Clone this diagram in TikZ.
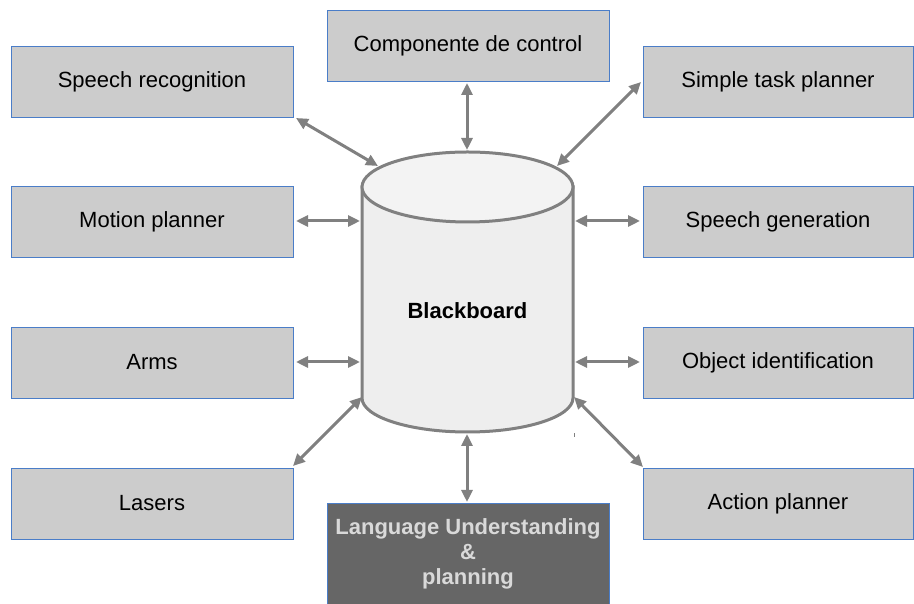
\documentclass[tikz,border=0pt]{standalone}
\usepackage{fontspec}
\setmainfont{Liberation Sans}
\usetikzlibrary{arrows.meta}
\definecolor{boxfill}{HTML}{CCCCCC}
\definecolor{boxline}{RGB}{74,125,200}
\definecolor{arrowgray}{HTML}{808080}
\definecolor{cyltop}{HTML}{F3F3F3}
\definecolor{cylbody}{HTML}{EEEEEE}
\definecolor{darkbox}{HTML}{666666}
\definecolor{lighttext}{HTML}{D9D9D9}
\begin{document}
\begin{tikzpicture}[x=1pt,y=1pt,
  box/.style={draw=boxline,line width=0.9pt,fill=boxfill,minimum height=71pt,inner sep=0pt,
    font=\fontsize{22}{25}\selectfont,text=black},
  lbox/.style={box,minimum width=282pt},
  rbox/.style={box,minimum width=270pt},
  conn/.style={draw=arrowgray,line width=3pt,{Triangle[length=12pt,width=11pt]}-{Triangle[length=12pt,width=11pt]}}
]
\useasboundingbox (0,0) rectangle (914,604);
% boxes
\node[lbox] (sr) at (152,522.5) {Speech recognition};
\node[lbox] (mp) at (152,382) {Motion planner};
\node[lbox] (arms) at (152,241.5) {Arms};
\node[lbox] (las) at (152,100.5) {Lasers};
\node[rbox] (stp) at (778,522.5) {Simple task planner};
\node[rbox] (sg) at (778,382) {Speech generation};
\node[rbox] (oi) at (778,241.5) {Object identification};
\node[rbox] (ap) at (778,100.5) {Action planner};
\node[lbox] (ctl) at (468,558.5) {Componente de control};
\node[box,fill=darkbox,minimum width=282pt,minimum height=101pt,text=lighttext,align=center,
  font=\fontsize{22}{25}\selectfont\bfseries] (lu) at (468,50.5) {Language Understanding\\\&\\planning};
% cylinder
\filldraw[draw=arrowgray,line width=3pt,fill=cylbody]
  (362,417) -- (362,206) arc[start angle=180,end angle=360,x radius=105.5,y radius=34] -- (573,417) -- cycle;
\filldraw[draw=arrowgray,line width=3pt,fill=cyltop] (467.5,417) ellipse[x radius=105.5,y radius=35];
\node[font=\fontsize{22}{25}\selectfont\bfseries] (bb) at (467.5,293) {Blackboard};
% connector end points
\coordinate (ctl-a) at (467,521); \coordinate (ctl-b) at (467,454);
\coordinate (sr-a) at (296,486);  \coordinate (sr-b) at (378,438);
\coordinate (stp-a) at (641,522); \coordinate (stp-b) at (557,438);
\coordinate (mp-a) at (296,383);  \coordinate (mp-b) at (360,383);
\coordinate (sg-a) at (640,383);  \coordinate (sg-b) at (575,383);
\coordinate (arms-a) at (296,242); \coordinate (arms-b) at (360,242);
\coordinate (oi-a) at (640,242);  \coordinate (oi-b) at (575,242);
\coordinate (las-a) at (293,138); \coordinate (las-b) at (362,207);
\coordinate (ap-a) at (643,137);  \coordinate (ap-b) at (574,207);
\coordinate (lu-a) at (467,102);  \coordinate (lu-b) at (467,170);
\foreach \n in {ctl,sr,stp,mp,sg,arms,oi,las,ap,lu}{
  \draw[conn] (\n-a) -- (\n-b);
}
\coordinate (tick-a) at (574,167); \coordinate (tick-b) at (574,171);
\draw[arrowgray,line width=1pt] (tick-a) -- (tick-b);
\end{tikzpicture}
\end{document}
